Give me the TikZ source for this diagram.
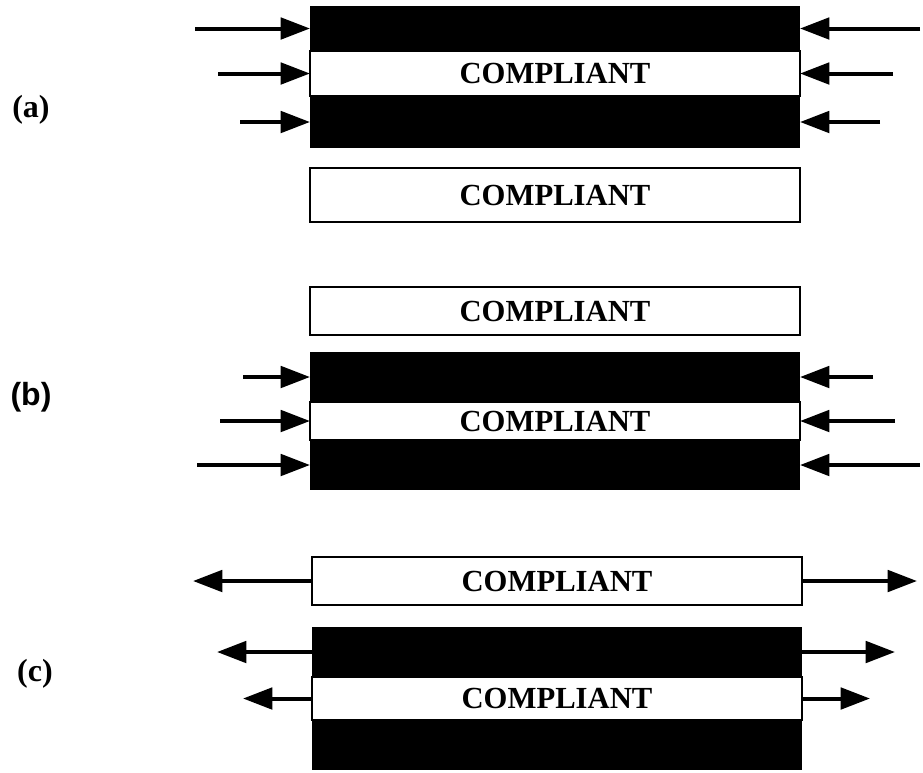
\documentclass[tikz,border=0pt]{standalone}
\usepackage{fontspec}
\setmainfont{Liberation Serif}
\newfontfamily\labsans{Liberation Sans}
\usetikzlibrary{arrows.meta}

\begin{document}
\begin{tikzpicture}[x=0.75pt,y=-0.75pt]
  \tikzstyle{band}=[rectangle,minimum width=367.5pt,inner sep=0pt,outer sep=0pt,anchor=north west]
  \tikzstyle{stiff}=[band,fill=black]
  \tikzstyle{soft}=[band,fill=white,draw,line width=2pt,font=\fontsize{23}{23}\selectfont\bfseries]
  \tikzstyle{push}=[line width=3pt,-{Triangle[length=22pt,width=16pt]}]
  \tikzstyle{tag}=[font=\fontsize{24}{24}\selectfont\bfseries]
  \useasboundingbox (0,0) rectangle (923,772);

  \node[stiff,minimum height=33.75pt] (aTop) at (310,6) {};
  \node[soft,minimum height=33.75pt] (aMid) at (310,51) {COMPLIANT};
  \node[stiff,minimum height=39pt] (aBot) at (310,96) {};
  \node[soft,minimum height=40.5pt] (aBox) at (310,168) {COMPLIANT};

  \node[soft,minimum height=36pt] (bBox) at (310,287) {COMPLIANT};
  \node[stiff,minimum height=37.5pt] (bTop) at (310,352) {};
  \node[soft,minimum height=28.5pt] (bMid) at (310,402) {COMPLIANT};
  \node[stiff,minimum height=37.5pt] (bBot) at (310,440) {};

  \node[soft,minimum height=36pt] (cBox) at (312,557) {COMPLIANT};
  \node[stiff,minimum height=37.5pt] (cTop) at (312,627) {};
  \node[soft,minimum height=32.25pt] (cMid) at (312,677) {COMPLIANT};
  \node[stiff,minimum height=37.5pt] (cBot) at (312,720) {};

  \node[tag] (aTag) at (31,110) {(a)};
  \node[tag,font=\fontsize{24}{24}\selectfont\labsans\bfseries] (bTag) at (31,397) {(b)};
  \node[tag] (cTag) at (35,674) {(c)};

  \foreach \b/\l/\r in {aTop/195/920,aMid/218/893,aBot/240/880,
                        bTop/243/873,bMid/220/895,bBot/197/920} {
    \coordinate (\b-l) at (\b.west -| \l,0);
    \coordinate (\b-r) at (\b.east -| \r,0);
    \draw[push] (\b-l) -- (\b.west);
    \draw[push] (\b-r) -- (\b.east);
  }
  \foreach \b/\l/\r in {cBox/193/917,cTop/217/895,cMid/243/870} {
    \coordinate (\b-l) at (\b.west -| \l,0);
    \coordinate (\b-r) at (\b.east -| \r,0);
    \draw[push] (\b.west) -- (\b-l);
    \draw[push] (\b.east) -- (\b-r);
  }
\end{tikzpicture}
\end{document}
